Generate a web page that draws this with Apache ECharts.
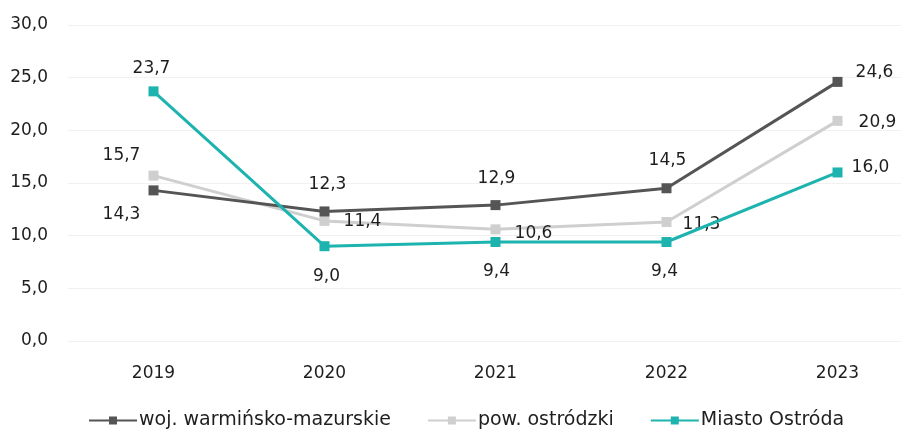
<!DOCTYPE html>
<html>
<head>
<meta charset="utf-8">
<script src="https://cdn.jsdelivr.net/npm/echarts@6/dist/echarts.min.js"></script>
<style>
html, body { margin: 0; padding: 0; background: #fff; }
#chart { width: 901px; height: 430px; }
</style>
</head>
<body>
<div id="chart"></div>
<script>
// kategorie i dane
var years = ['2019', '2020', '2021', '2022', '2023'];
var seriesNames = ['woj. warmińsko-mazurskie', 'pow. ostródzki', 'Miasto Ostróda'];
var wojValues = [14.3, 12.3, 12.9, 14.5, 24.6];
var powValues = [15.7, 11.4, 10.6, 11.3, 20.9];
var miastoValues = [23.7, 9.0, 9.4, 9.4, 16.0];

// przesuniecia etykiet (od srodka punktu)
var wojOffsets = [[-32, 24], [3, -27], [1, -27], [1, -28], [37, -9]];
var powOffsets = [[-32, -20], [38, 1], [38, 4], [35, 3], [40, 2]];
var miastoOffsets = [[-2, -23], [2, 30], [1, 30], [-2, 30], [33, -5]];

var FONT = 'DejaVu Sans';

var fmt = function (v) {
    return v.toFixed(1).replace('.', ',');
};

function buildData(values, offsets) {
    return values.map(function (v, i) {
        return {
            value: v,
            label: { position: 'inside', offset: offsets[i] }
        };
    });
}

function makeSeries(name, values, offsets, color, z) {
    return {
        name: name,
        type: 'line',
        symbol: 'rect',
        symbolSize: 10,
        z: z,
        lineStyle: { color: color, width: 3 },
        itemStyle: { color: color },
        label: {
            show: true,
            color: '#1e1e1e',
            fontSize: 17,
            fontFamily: FONT,
            formatter: function (p) { return fmt(p.value); }
        },
        data: buildData(values, offsets)
    };
}

var myChart = echarts.init(document.getElementById('chart'));
var option = {
    backgroundColor: '#fff',
    animation: false,
    grid: { left: 68, right: -22, top: 25, bottom: 89, outerBoundsMode: 'none' },
    legend: {
        left: 83,
        top: 406,
        itemGap: 36,
        itemWidth: 48,
        itemHeight: 10,
        textStyle: { color: '#1e1e1e', fontSize: 19, fontFamily: FONT, padding: [0, 0, 0, -3] },
        data: seriesNames
    },
    xAxis: {
        type: 'category',
        data: years,
        boundaryGap: true,
        axisLine: { show: false },
        axisTick: { show: false },
        axisLabel: { color: '#1e1e1e', fontSize: 17, fontFamily: FONT, margin: 24 }
    },
    yAxis: {
        type: 'value',
        min: 0,
        max: 30,
        interval: 5,
        axisLine: { show: false },
        axisTick: { show: false },
        splitLine: { lineStyle: { color: '#f1f1f1' } },
        axisLabel: {
            color: '#1e1e1e',
            fontSize: 17,
            fontFamily: FONT,
            margin: 20,
            formatter: function (v) { return fmt(v); }
        }
    },
    series: [
        makeSeries(seriesNames[0], wojValues, wojOffsets, '#555555', 3),
        makeSeries(seriesNames[1], powValues, powOffsets, '#cfcfcf', 2),
        makeSeries(seriesNames[2], miastoValues, miastoOffsets, '#1db3ae', 4)
    ]
};
myChart.setOption(option);
</script>
</body>
</html>
